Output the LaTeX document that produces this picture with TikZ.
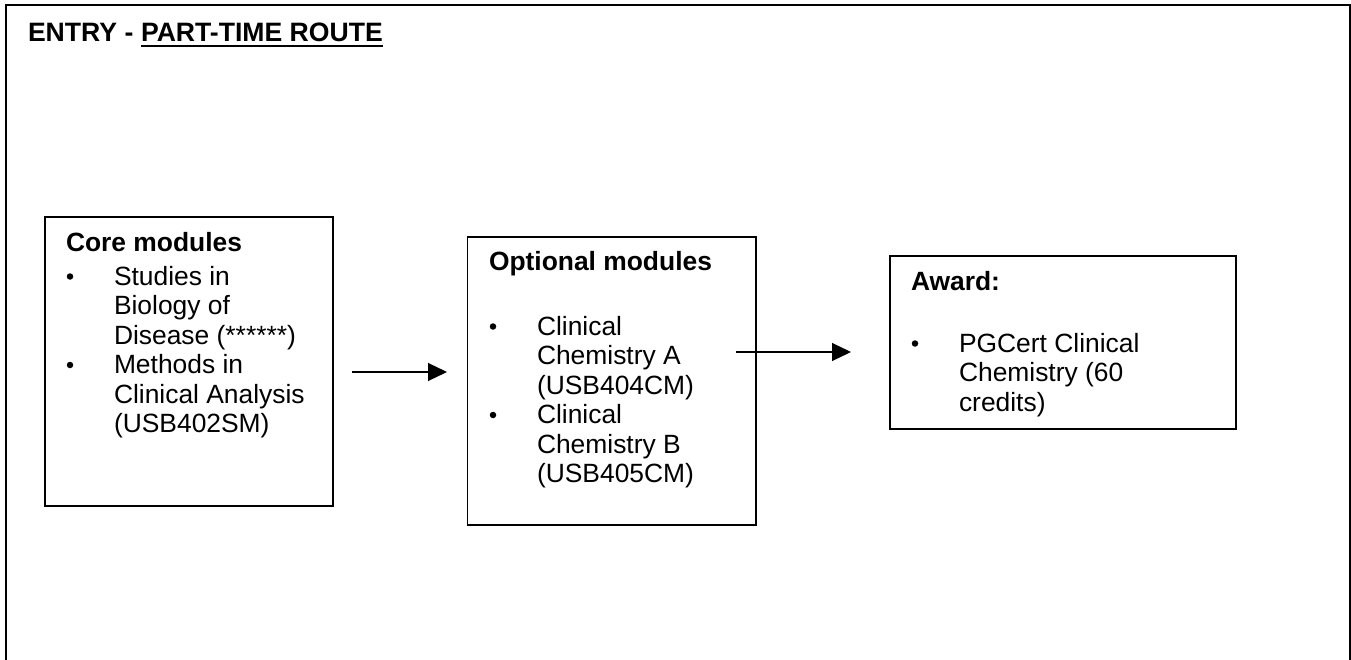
\documentclass[tikz,border=0pt]{standalone}
\usepackage{fontspec}
\setmainfont{Liberation Sans}
\usetikzlibrary{arrows.meta}
\newcommand{\fs}{\fontsize{26.4}{30}\selectfont}
\begin{document}
\begin{tikzpicture}[x=1pt,y=-1pt,
  boxnode/.style={draw, line width=1.2pt, inner sep=0pt, outer sep=0pt, anchor=north west},
  txt/.style={anchor=base west, inner sep=0pt, outer sep=0pt, font=\fs},
  head/.style={txt, font=\fs\bfseries},
  bul/.style={fill, circle, inner sep=0pt, minimum size=6.5pt},
  arr/.style={line width=1.1pt, -{Triangle[length=19pt,width=18pt]}},
  frame/.style={line width=2pt}]
\useasboundingbox (0,0) rectangle (1351,660);
% outer frame (open at the bottom)
\coordinate (fbl) at (6,664);
\coordinate (ftl) at (6,5.5);
\coordinate (ftr) at (1349.5,5.5);
\coordinate (fbr) at (1349.5,664);
\draw[frame] (fbl) -- (ftl) -- (ftr) -- (fbr);
% title
\node[head, font=\fontsize{26.6}{30}\selectfont\bfseries] (t1) at (28,42) {ENTRY -};
\node[head, font=\fontsize{26.6}{30}\selectfont\bfseries] (t2) at (141,42) {PART-TIME ROUTE};
\draw[line width=2pt] ([yshift=-4.5pt]t2.base west) -- ([yshift=-4.5pt]t2.base east);
% boxes
\node[boxnode, minimum width=288pt, minimum height=289pt] (core) at (45,217) {};
\node[boxnode, minimum width=288.5pt, minimum height=288pt] (opt) at (467.5,237) {};
\node[boxnode, minimum width=346pt, minimum height=173pt] (award) at (890,256) {};
% core text
\node[head] (coreh) at (66,252) {Core modules};
\node[bul] (cb1) at (70,276.5) {};
\node[txt] (c1) at (114,285) {Studies in};
\node[txt] (c2) at (114,314.5) {Biology of};
\node[txt] (c3) at (114,344) {Disease (******)};
\node[bul] (cb2) at (70,365) {};
\node[txt] (c4) at (114,373.5) {Methods in};
\node[txt] (c5) at (114,403) {Clinical Analysis};
\node[txt] (c6) at (114,432.5) {(USB402SM)};
% optional text
\node[head] (opth) at (489,271) {Optional modules};
\node[bul] (ob1) at (493,326.5) {};
\node[txt] (o1) at (537,335) {Clinical};
\node[txt] (o2) at (537,364.5) {Chemistry A};
\node[txt] (o3) at (537,394) {(USB404CM)};
\node[bul] (ob2) at (493,415) {};
\node[txt] (o4) at (537,423.5) {Clinical};
\node[txt] (o5) at (537,453) {Chemistry B};
\node[txt] (o6) at (537,482.5) {(USB405CM)};
% award text
\node[head] (awh) at (911,290) {Award:};
\node[bul] (ab1) at (915,343.5) {};
\node[txt] (a1) at (959,352) {PGCert Clinical};
\node[txt] (a2) at (959,381.5) {Chemistry (60};
\node[txt] (a3) at (959,411) {credits)};
% arrows
\coordinate (r1s) at (352,372);
\coordinate (r1e) at (447,372);
\coordinate (r2s) at (736,352);
\coordinate (r2e) at (851,352);
\draw[arr] (r1s) -- (r1e);
\draw[arr] (r2s) -- (r2e);
\end{tikzpicture}
\end{document}
